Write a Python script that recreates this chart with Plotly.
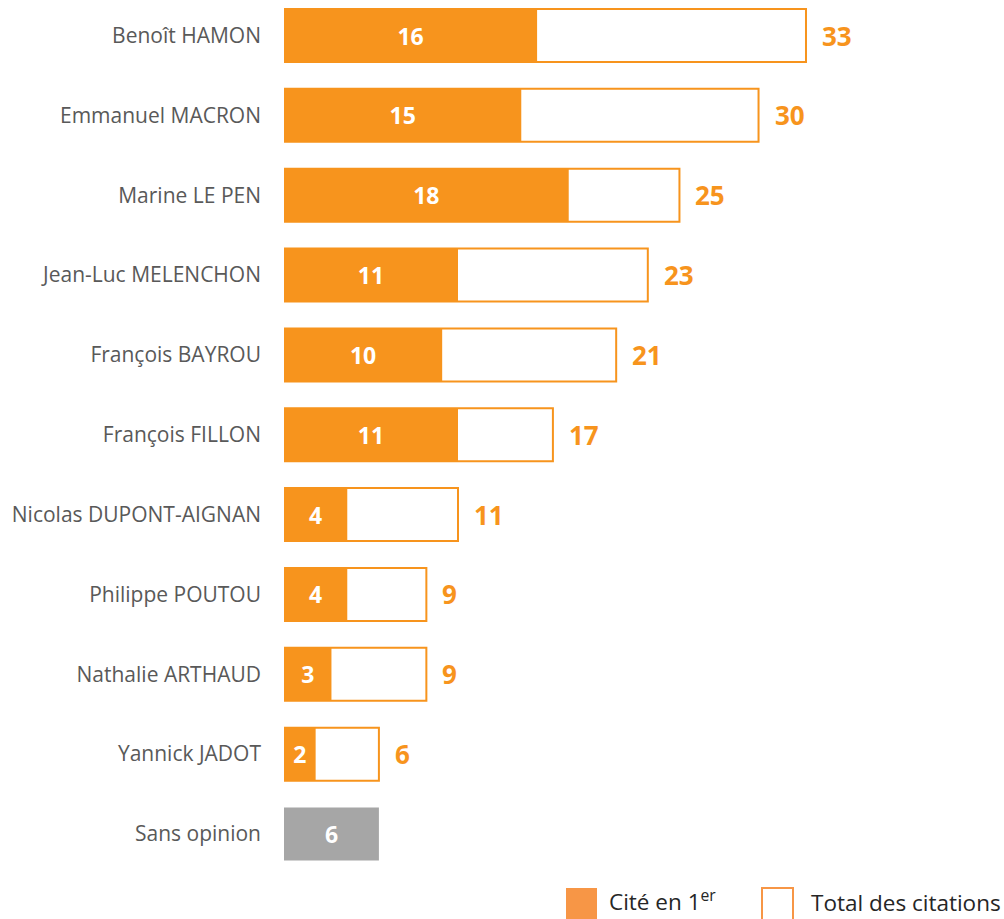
import plotly.graph_objects as go

candidates = ["Benoît HAMON", "Emmanuel MACRON", "Marine LE PEN", "Jean-Luc MELENCHON",
              "François BAYROU", "François FILLON", "Nicolas DUPONT-AIGNAN", "Philippe POUTOU",
              "Nathalie ARTHAUD", "Yannick JADOT"]
cite_premier = [16, 15, 18, 11, 10, 11, 4, 4, 3, 2]
total_citations = [33, 30, 25, 23, 21, 17, 11, 9, 9, 6]
sans_opinion_label = "Sans opinion"
sans_opinion_value = [6]
legend_labels = ["Cité en 1<sup>er</sup>", "Total des citations"]

categories = candidates + [sans_opinion_label]

ORANGE = "rgb(247,148,29)"
ORANGE_LEG = "rgb(247,150,70)"
GRAY = "rgb(166,166,166)"
FONT = "Open Sans"
W, H = 1004, 919

fig = go.Figure()
fig.add_trace(go.Bar(
    y=candidates, x=total_citations, orientation="h",
    marker=dict(color="white", line=dict(color=ORANGE, width=2)),
    width=0.664, showlegend=False, hoverinfo="skip",
))
fig.add_trace(go.Bar(
    y=candidates, x=cite_premier, orientation="h",
    marker=dict(color=ORANGE, line=dict(width=0)),
    width=0.664, showlegend=False,
    text=[str(v) for v in cite_premier], textposition="inside",
    insidetextanchor="middle", textangle=0, constraintext="none",
    textfont=dict(family=FONT, size=23, color="white", weight="bold"),
))
fig.add_trace(go.Bar(
    y=[sans_opinion_label], x=sans_opinion_value, orientation="h",
    marker=dict(color=GRAY, line=dict(width=0)),
    width=0.664, showlegend=False,
    text=[str(v) for v in sans_opinion_value], textposition="inside",
    insidetextanchor="middle", textangle=0, constraintext="none",
    textfont=dict(family=FONT, size=23, color="white", weight="bold"),
))

annotations = []
for c, t in zip(candidates, total_citations):
    annotations.append(dict(
        x=t, y=c, xref="x", yref="y", text=str(t), showarrow=False,
        xanchor="left", yanchor="middle", xshift=14,
        font=dict(family=FONT, size=26, color=ORANGE, weight="bold"),
    ))

# legend (drawn manually)
shapes = [
    dict(type="rect", xref="paper", yref="paper",
         x0=566 / W, x1=597 / W, y0=(H - 919) / H, y1=(H - 888) / H,
         fillcolor=ORANGE_LEG, line=dict(width=0)),
    dict(type="rect", xref="paper", yref="paper",
         x0=762 / W, x1=793 / W, y0=(H - 920) / H, y1=(H - 888) / H,
         fillcolor="white", line=dict(color=ORANGE_LEG, width=2)),
]
annotations.append(dict(x=607 / W, y=0, xref="paper", yref="paper",
                        text=legend_labels[0], showarrow=False, xanchor="left", yanchor="bottom",
                        font=dict(family=FONT, size=22.5, color="#262626")))
annotations.append(dict(x=1003 / W, y=(H - 902) / H, xref="paper", yref="paper",
                        text=legend_labels[1], showarrow=False, xanchor="right", yanchor="middle",
                        font=dict(family=FONT, size=22.5, color="#262626")))

fig.update_layout(
    width=W, height=H, margin=dict(l=0, r=0, t=0, b=0),
    paper_bgcolor="white", plot_bgcolor="white",
    barmode="overlay", showlegend=False,
    shapes=shapes, annotations=annotations,
    xaxis=dict(domain=[284 / W, 1], range=[0, 720 / 15.818], visible=False, fixedrange=True),
    yaxis=dict(domain=[49 / H, 1], type="category", categoryorder="array", categoryarray=categories,
               range=[10.451, -0.4446], showgrid=False, zeroline=False, showline=False,
               ticks="", ticklabelstandoff=22,
               tickfont=dict(family=FONT, size=21, color="#595959")),
)

fig.write_html("out.html", config={"displayModeBar": False},
               post_script="document.body.style.margin='0';")
